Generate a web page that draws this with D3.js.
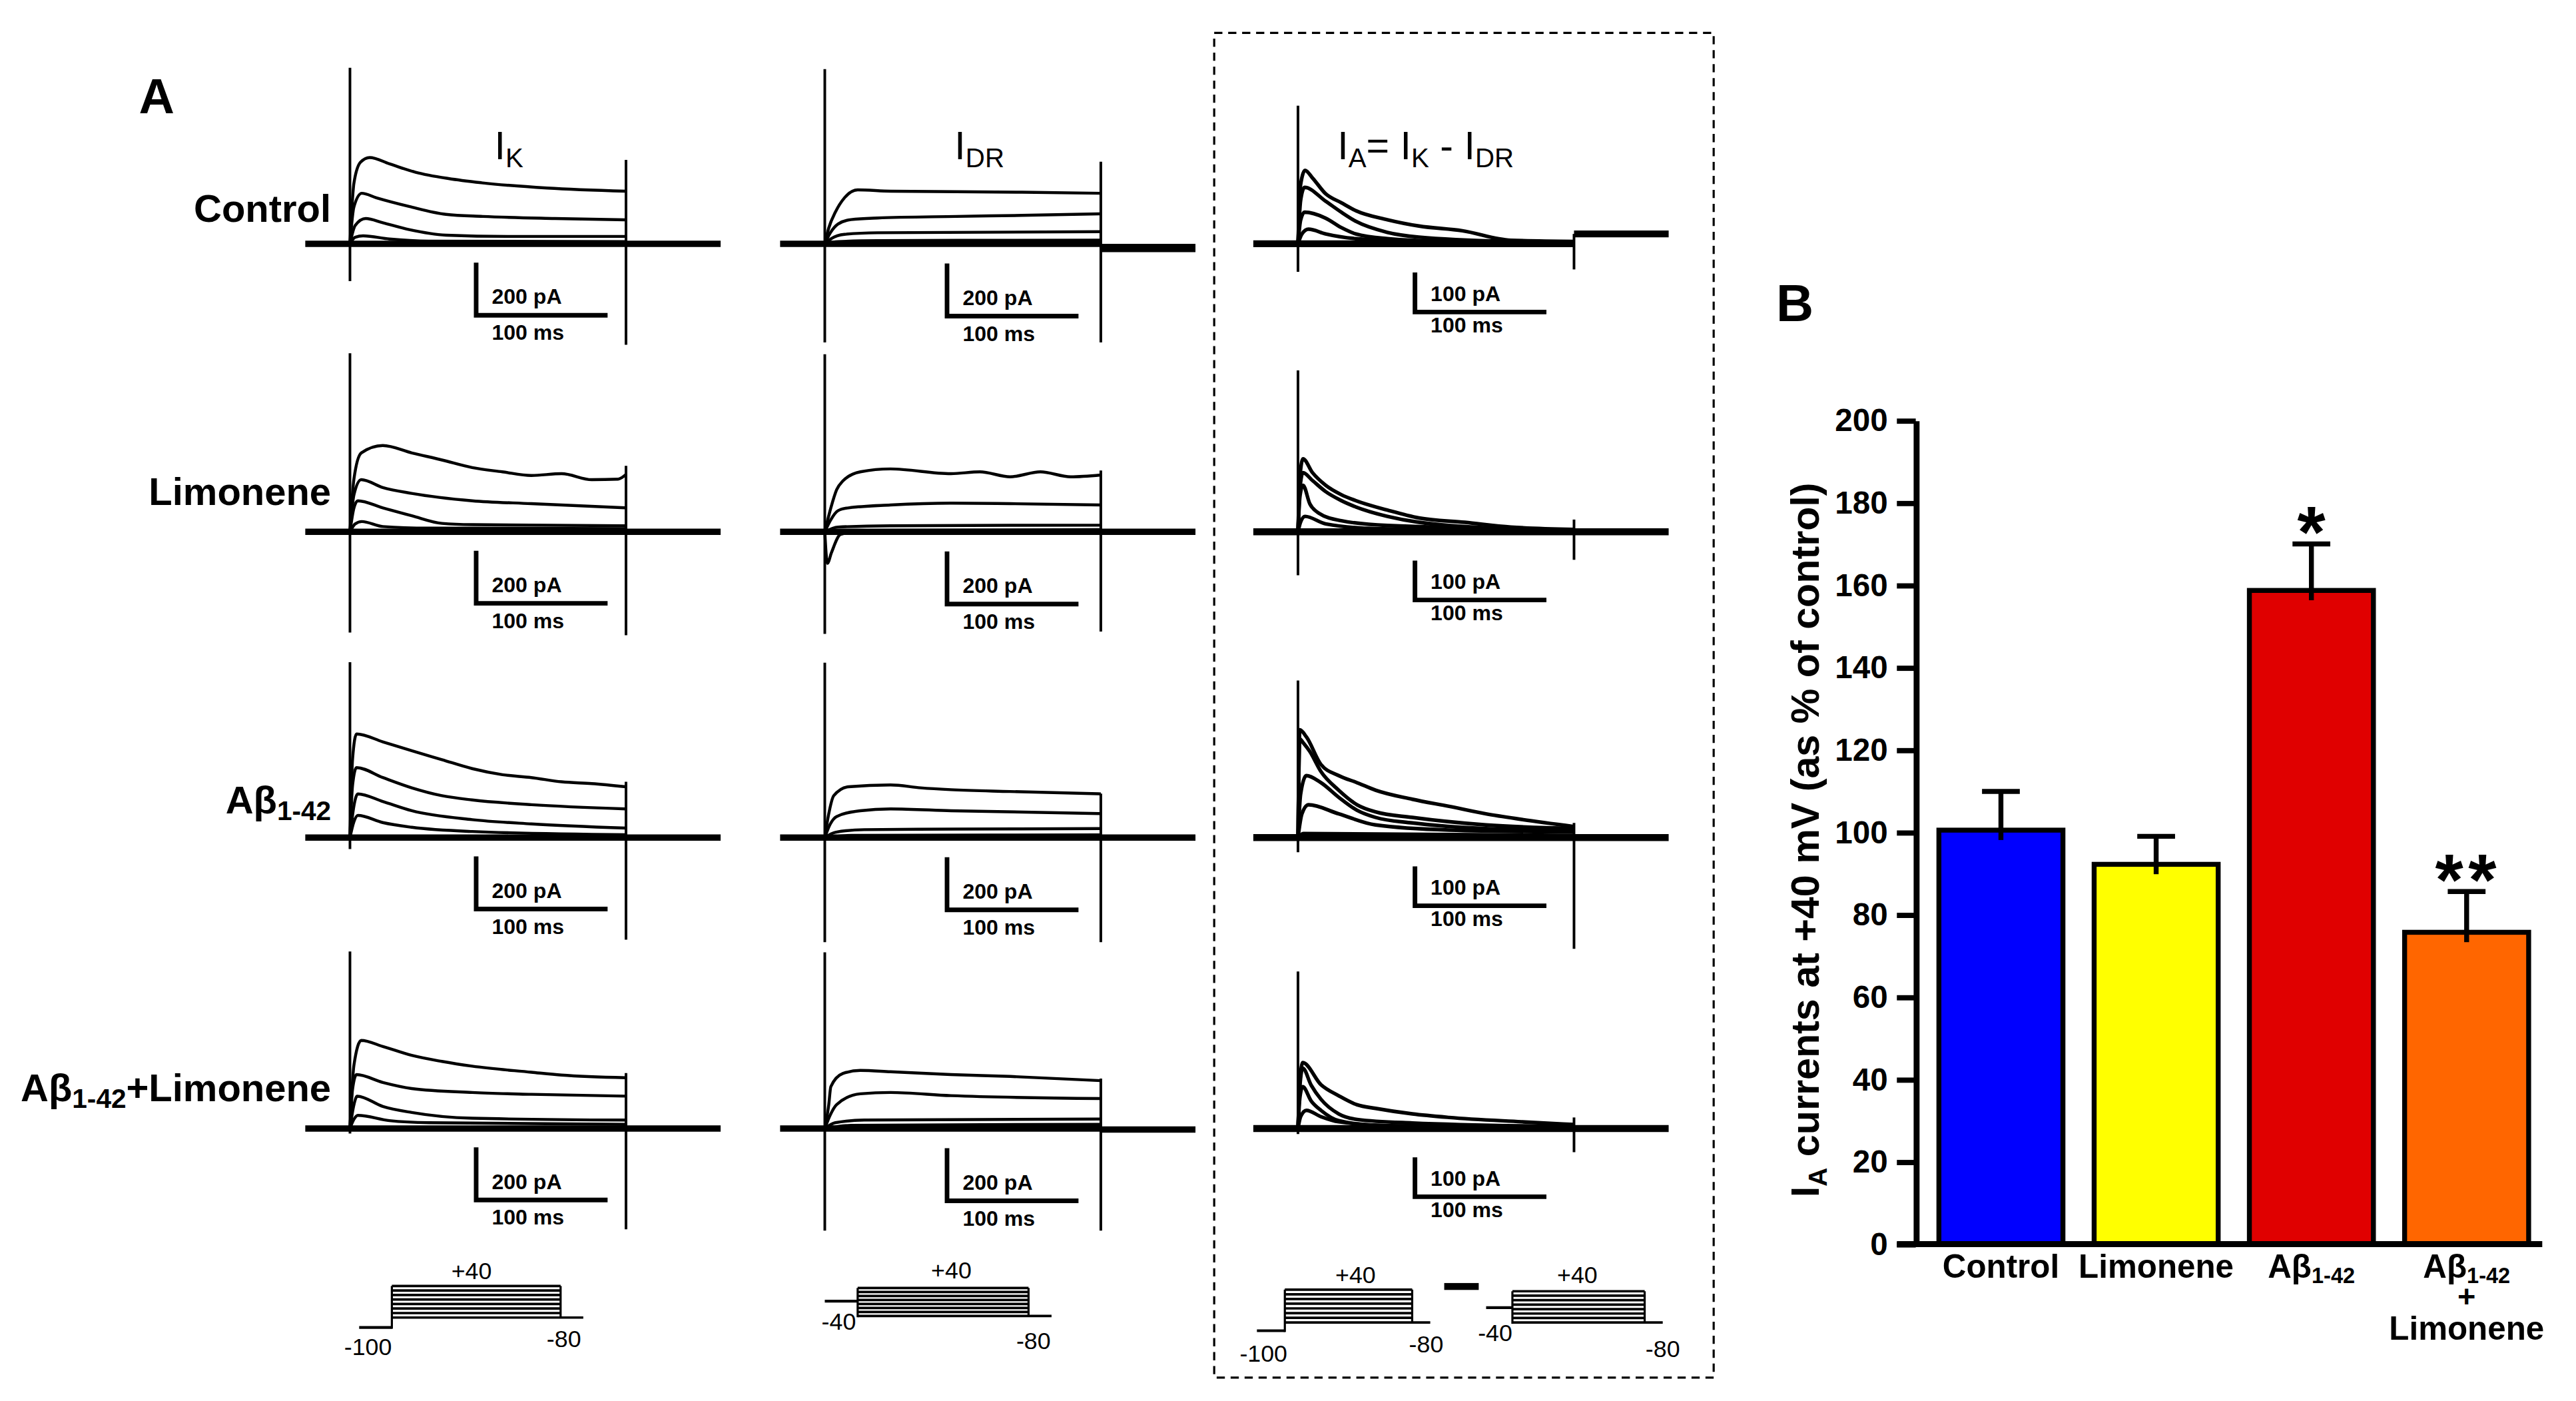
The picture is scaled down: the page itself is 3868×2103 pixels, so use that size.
<!DOCTYPE html>
<html>
<head>
<meta charset="utf-8">
<script src="https://cdn.jsdelivr.net/npm/d3@7"></script>
<style>
  body { margin: 0; background: #fff; overflow: hidden; }
  svg { display: block; }
  text { font-family: "Liberation Sans", Arial, sans-serif; fill: #000; }
</style>
</head>
<body>
<script>
// ---------------- data ----------------
// panel B: I_A at +40 mV as % of control
var barCategories = ["Control", "Limonene", "Abeta", "Abeta+Limonene"];
var barLabelLines = [["Control"], ["Limonene"], ["Aβ_{1-42}"], ["Aβ_{1-42}", "+", "Limonene"]];
var barMeans = [100.5, 92.2, 158.7, 75.7];
var barSem = [9.4, 6.8, 11.3, 9.9];
var barColors = ["#0000ff", "#ffff00", "#e00000", "#ff6600"];
var barStars = ["", "", "*", "**"];
var yTicks = [0, 20, 40, 60, 80, 100, 120, 140, 160, 180, 200];

// panel A: current traces, [time ms after step onset, current pA]
var rowNames = ["Control", "Limonene", "Aβ_{1-42}", "Aβ_{1-42}+Limonene"];
var colTitles = ["I_{K}", "I_{DR}", "I_{A}= I_{K} - I_{DR}"];
var scaleBarPa = [200, 200, 100];
var scaleBarMs = 100;
var pulseMs = 210, preMs = 34, postMs = 72;

var tracesIK = [
  [ [[0,0],[3,230],[8,310],[15,328],[30,304],[50,272],[75,248],[100,232],[150,212],[210,200]],
    [[0,0],[3,140],[9,192],[20,175],[45,142],[73,112],[101,104],[156,96],[210,91]],
    [[0,0],[4,70],[12,96],[25,80],[45,54],[73,33],[120,28],[210,28]],
    [[0,0],[4,25],[10,30],[30,18],[60,10],[210,8]] ],
  [ [[0,0],[3,200],[8.6,300],[25,328],[47,300],[70,273],[93,244],[116,228],[138,214],[161,221],[184,198],[204,200],[210,218]],
    [[0,0],[3,140],[8.6,198],[25,168],[47,146],[93,118],[138,107],[210,91]],
    [[0,0],[3,90],[6,118],[25,91],[47,61],[70,32],[93,27],[210,23]],
    [[0,0],[4,30],[9,39],[25,20],[60,14],[210,12]] ],
  [ [[0,0],[2,300],[5,394],[25,364],[47,330],[70,296],[93,262],[116,239],[138,228],[161,212],[184,205],[210,193]],
    [[0,0],[2,200],[5,266],[25,228],[47,189],[70,159],[93,143],[138,125],[210,109]],
    [[0,0],[3,120],[6,166],[25,137],[47,102],[93,68],[138,52],[210,36]],
    [[0,0],[3,60],[6,84],[25,57],[47,39],[93,23],[210,11]] ],
  [ [[0,0],[3,240],[8.6,335],[25,312],[47,278],[70,255],[93,237],[138,214],[161,203],[210,193]],
    [[0,0],[2,150],[5,205],[25,175],[47,152],[93,137],[138,130],[210,123]],
    [[0,0],[3,90],[5.5,123],[25,84],[47,61],[93,39],[210,32]],
    [[0,0],[3,35],[6,50],[30,30],[60,22],[210,16]] ]
];

var tracesIDR = [
  [ [[0,0],[3,60],[8,120],[15,175],[25,205],[50,200],[100,198],[150,196],[210,192]],
    [[0,0],[4,40],[10,75],[20,92],[40,98],[100,104],[150,108],[210,114]],
    [[0,0],[5,20],[15,36],[40,42],[210,46]],
    [[0,0],[10,8],[40,12],[210,14]] ],
  [ [[0,0],[4.6,91],[9,160],[13.7,193],[27,228],[50,239],[96,221],[118,228],[141,209],[164,228],[187,209],[210,216]],
    [[0,0],[4.6,46],[10,80],[18,91],[50,102],[96,109],[141,107],[210,102]],
    [[0,0],[10,18],[50,23],[210,25]],
    [[0,0],[2,-120],[5,-80],[12,-10],[30,5],[210,8]] ],
  [ [[0,0],[3,90],[6.8,159],[18,193],[50,200],[73,189],[96,182],[141,175],[210,166]],
    [[0,0],[4,50],[9,80],[27,102],[50,109],[96,102],[210,91]],
    [[0,0],[8,20],[30,30],[100,32],[210,34]],
    [[0,0],[20,8],[210,10]] ],
  [ [[0,0],[3,90],[4.6,159],[13.7,209],[27,221],[50,216],[96,205],[141,198],[210,182]],
    [[0,0],[4,50],[9,91],[27,132],[50,137],[96,125],[210,114]],
    [[0,0],[8,22],[30,32],[210,36]],
    [[0,0],[20,12],[210,16]] ]
];

var tracesIA = [
  [ [[0,0],[2,150],[5.4,186],[11,167],[21,127],[33,104],[44,84],[68,61],[92,45],[125,33],[162,9],[210,6]],
    [[0,0],[2,110],[5,143],[21,108],[33,80],[44,57],[68,29],[92,17],[162,6],[210,4]],
    [[0,0],[2,60],[5,80],[21,65],[33,41],[44,25],[68,13],[115,6],[210,3]],
    [[0,0],[3,25],[8,37],[21,25],[44,13],[92,6],[210,3]] ],
  [ [[0,0],[1.5,140],[3.8,185],[11,150],[21,118],[33,94],[44,79],[68,55],[92,35],[127,24],[162,12],[210,6]],
    [[0,0],[1.5,110],[3.8,150],[11,130],[21,102],[33,79],[44,63],[68,39],[92,24],[162,8],[210,5]],
    [[0,0],[1.5,90],[3.8,118],[9,71],[16,47],[33,28],[68,16],[210,5]],
    [[0,0],[2,25],[5.4,39],[21,20],[60,8],[210,3]] ],
  [ [[0,0],[1.4,273],[6.4,255],[17.5,185],[31,157],[45,139],[59,120],[87,97],[115,79],[143,60],[170,46],[210,28]],
    [[0,0],[1.4,250],[4,240],[9,218],[17.5,167],[31,120],[45,83],[59,65],[87,51],[143,32],[210,23]],
    [[0,0],[2,110],[6.4,157],[17.5,139],[31,102],[45,69],[59,51],[87,37],[143,23],[210,19]],
    [[0,0],[3,60],[8,83],[31,60],[59,32],[115,19],[210,14]],
    [[0,0],[4,10],[210,5]] ],
  [ [[0,0],[1.5,120],[3.6,167],[17.5,111],[31,83],[45,60],[59,51],[87,37],[115,28],[170,17],[210,10]],
    [[0,0],[1.5,110],[3.6,153],[10,110],[17.5,74],[31,37],[45,23],[87,14],[210,5]],
    [[0,0],[1.5,80],[3.6,106],[10,70],[17.5,46],[31,20],[60,8],[210,3]],
    [[0,0],[2,30],[6.4,46],[17.5,30],[31,17],[80,6],[210,3]] ]
];

// capacitive transients: [onset top, onset bottom, offset top, offset bottom] in pA
var spikesIK = [[669,-142,319,-384],[679,-383,251,-393],[667,-44,212,-388],[673,-19,211,-383]];
var spikesIDR = [[664,-375,312,-375],[675,-388,233,-379],[665,-398,167,-398],[670,-388,190,-388]];
var spikesIA = [[350,-71,25,-65],[409,-110,31,-71],[398,-37,37,-282],[398,-14,28,-60]];
// holding current after the step, pA
var tailIK = [0, 0, 0, 0];
var tailIDR = [-16, 0, 0, -4];
var tailIA = [25, 0, 0, 0];

// voltage protocol labels (mV)
var protocolLabels = [["+40", "-100", "-80"], ["+40", "-40", "-80"], ["+40", "-100", "-80"], ["+40", "-40", "-80"]];
var protocolSteps = 8;

// ---------------- layout ----------------
var W = 1560, H = 848;
var colOnsetX = [213, 502, 790];
var rowBaseY = [148.3, 323.5, 509.5, 686.5];
var rowLabelY = [135, 307, 495, 670];
var pxPerMs = 0.8;
var scaleBarPx = [32, 32, 24];
var scaleBarT = [96, 93, 89];
var scaleBarTop = [11.5, 12, 17.5];
var traceWidth = [1.8, 1.8, 2.2];

var protocolLayout = [
  {x0: 218.6, x1: 238.5, x2: 341.2, x3: 355, top: 782.3, bottom: 801.5, hold: 807.5, lab: [[287, 778.2], [224, 824.4], [343.2, 819.5]]},
  {x0: 502, x1: 522, x2: 626, x3: 640, top: 783.5, bottom: 800.5, hold: 791.5, lab: [[579, 777.5], [510.5, 808.8], [629, 820.5]]},
  {x0: 765, x1: 782, x2: 859.5, x3: 870.5, top: 784.5, bottom: 804.5, hold: 809.5, lab: [[825, 780.5], [769, 828.5], [868, 822.5]]},
  {x0: 904.5, x1: 920.5, x2: 1001, x3: 1012, top: 785.5, bottom: 804.5, hold: 795.5, lab: [[960, 780.5], [910, 815.8], [1012, 825.5]]}
];

var svg = d3.select("body").append("svg")
  .attr("width", 3868).attr("height", 2103)
  .attr("viewBox", "0 0 " + W + " " + H)
  .attr("preserveAspectRatio", "none");
var root = svg.append("g").attr("transform", "scale(0.995)");

// text with _{subscript} parts
function richText(sel, str, subScale, subDy) {
  var fs = parseFloat(sel.attr("font-size"));
  var parts = str.split(/(_\{[^}]*\})/).filter(function(s) { return s.length; });
  var lowered = false;
  parts.forEach(function(p) {
    if (p.indexOf("_{") === 0) {
      sel.append("tspan").attr("font-size", fs * subScale).attr("dy", subDy).text(p.slice(2, -1));
      lowered = true;
    } else {
      sel.append("tspan").attr("dy", lowered ? -subDy : 0).text(p);
      lowered = false;
    }
  });
  return sel;
}

// ---------------- panel A ----------------
var gA = root.append("g");

gA.append("text").attr("x", 84.5).attr("y", 69).attr("font-size", 30).attr("font-weight", "bold").text("A");

// dashed box round I_A
gA.append("rect").attr("x", 739).attr("y", 20).attr("width", 304).attr("height", 818)
  .attr("fill", "none").attr("stroke", "#000").attr("stroke-width", 1.3).attr("stroke-dasharray", "5,3.5");

var titleX = [301, 581, 814];
colTitles.forEach(function(t, c) {
  richText(gA.append("text").attr("x", titleX[c]).attr("y", 96.8).attr("font-size", 24), t, 0.68, 5);
});

rowNames.forEach(function(n, r) {
  richText(gA.append("text").attr("x", 201.5).attr("y", rowLabelY[r]).attr("font-size", 23.5)
    .attr("font-weight", "bold").attr("text-anchor", "end"), n, 0.7, 4);
});

var allTraces = [tracesIK, tracesIDR, tracesIA];
var allSpikes = [spikesIK, spikesIDR, spikesIA];
var allTails = [tailIK, tailIDR, tailIA];

function drawPanel(c, r) {
  var ox = colOnsetX[c], by = rowBaseY[r];
  var x = d3.scaleLinear().domain([0, scaleBarMs]).range([ox, ox + scaleBarMs * pxPerMs]);
  var y = d3.scaleLinear().domain([0, scaleBarPa[c]]).range([by, by - scaleBarPx[c]]);
  var line = d3.line().x(function(d) { return x(d[0]); }).y(function(d) { return y(d[1]); })
    .curve(d3.curveMonotoneX);
  var g = gA.append("g");
  var tail = allTails[c][r];
  var baseW = c === 2 ? 4.2 : 3.8;

  // holding baseline (overlapping sweeps)
  g.append("path").attr("d", line([[-preMs, 0], [pulseMs, 0]]))
    .attr("fill", "none").attr("stroke", "#000").attr("stroke-width", baseW);
  g.append("path").attr("d", line([[pulseMs, tail], [pulseMs + postMs, tail]]))
    .attr("fill", "none").attr("stroke", "#000").attr("stroke-width", (c === 1 && r === 0) ? 5 : baseW);

  // step sweeps
  g.selectAll("path.sweep").data(allTraces[c][r]).enter().append("path")
    .attr("class", "sweep")
    .attr("d", line)
    .attr("fill", "none").attr("stroke", "#000")
    .attr("stroke-width", traceWidth[c]).attr("stroke-linejoin", "round");

  // capacitive transients
  var s = allSpikes[c][r];
  g.append("line").attr("x1", x(0)).attr("x2", x(0)).attr("y1", y(s[0])).attr("y2", y(s[1]))
    .attr("stroke", "#000").attr("stroke-width", 1.6);
  g.append("line").attr("x1", x(pulseMs)).attr("x2", x(pulseMs)).attr("y1", y(s[2])).attr("y2", y(s[3]))
    .attr("stroke", "#000").attr("stroke-width", 1.6);

  // scale bar
  var bx = x(scaleBarT[c]), bTop = by + scaleBarTop[c], bBot = bTop + scaleBarPx[c];
  g.append("path")
    .attr("d", "M" + bx + "," + bTop + "V" + bBot + "H" + x(scaleBarT[c] + scaleBarMs))
    .attr("fill", "none").attr("stroke", "#000").attr("stroke-width", 2.8).attr("stroke-linejoin", "miter");
  g.append("text").attr("x", bx + 9.5).attr("y", bBot - 6.8).attr("font-size", 13)
    .attr("font-weight", "bold").text(scaleBarPa[c] + " pA");
  g.append("text").attr("x", bx + 9.5).attr("y", bBot + (c === 2 ? 12.5 : 15)).attr("font-size", 13)
    .attr("font-weight", "bold").text(scaleBarMs + " ms");
}

for (var c = 0; c < 3; c++) {
  for (var r = 0; r < 4; r++) drawPanel(c, r);
}

// voltage protocols
protocolLayout.forEach(function(p, i) {
  var g = gA.append("g").attr("stroke", "#000").attr("fill", "none");
  var vy = d3.scaleLinear().domain([0, protocolSteps - 1]).range([p.top, p.bottom]);
  d3.range(protocolSteps).forEach(function(k) {
    g.append("line").attr("x1", p.x1).attr("x2", k === protocolSteps - 1 ? p.x3 : p.x2)
      .attr("y1", vy(k)).attr("y2", vy(k)).attr("stroke-width", 1.5);
  });
  g.append("line").attr("x1", p.x0).attr("x2", p.x1).attr("y1", p.hold).attr("y2", p.hold).attr("stroke-width", 1.7);
  g.append("line").attr("x1", p.x1).attr("x2", p.x1).attr("y1", p.top).attr("y2", Math.max(p.hold, p.bottom) + 0.8).attr("stroke-width", 1.3);
  g.append("line").attr("x1", p.x2).attr("x2", p.x2).attr("y1", p.top).attr("y2", p.bottom).attr("stroke-width", 1.3);
  protocolLabels[i].forEach(function(t, k) {
    gA.append("text").attr("x", p.lab[k][0]).attr("y", p.lab[k][1]).attr("font-size", 14.5)
      .attr("text-anchor", "middle").text(t);
  });
});
// minus sign between the two I_A protocols
gA.append("rect").attr("x", 879).attr("y", 780.5).attr("width", 21).attr("height", 4.2).attr("fill", "#000");

// ---------------- panel B ----------------
var gB = root.append("g");
var axisX = 1166, tickLen = 11.5;
var yB = d3.scaleLinear().domain([0, 200]).range([756.8, 255.7]);
var xB = d3.scaleBand().domain(barCategories).range([axisX, 1553.1]).paddingInner(0.201).paddingOuter(0.149);

gB.append("text").attr("x", 1081).attr("y", 195.3).attr("font-size", 31.5).attr("font-weight", "bold").text("B");

var yAxis = gB.append("g").attr("transform", "translate(" + axisX + ",0)")
  .call(d3.axisLeft(yB).tickValues(yTicks).tickSize(tickLen).tickSizeOuter(0).tickPadding(5.5));
yAxis.select(".domain").attr("stroke", "#000").attr("stroke-width", 3.6);
yAxis.selectAll(".tick line").attr("stroke", "#000").attr("stroke-width", 3.2);
yAxis.selectAll(".tick text").attr("font-size", 19.3).attr("font-weight", "bold")
  .attr("font-family", "'Liberation Sans', Arial, sans-serif").attr("fill", "#000");

// bars
gB.selectAll("rect.bar").data(barCategories).enter().append("rect")
  .attr("class", "bar")
  .attr("x", function(d) { return xB(d); })
  .attr("width", xB.bandwidth())
  .attr("y", function(d, i) { return yB(barMeans[i]); })
  .attr("height", function(d, i) { return yB(0) - yB(barMeans[i]); })
  .attr("fill", function(d, i) { return barColors[i]; })
  .attr("stroke", "#000").attr("stroke-width", 3);

// x axis line
gB.append("line").attr("x1", axisX - tickLen).attr("x2", 1547.3)
  .attr("y1", yB(0)).attr("y2", yB(0)).attr("stroke", "#000").attr("stroke-width", 3.6);

// error bars (upper SEM)
var labelLineY = [777.2, 795, 815];
barCategories.forEach(function(d, i) {
  var cx = xB(d) + xB.bandwidth() / 2;
  gB.append("line").attr("x1", cx).attr("x2", cx)
    .attr("y1", yB(barMeans[i]) + 6).attr("y2", yB(barMeans[i] + barSem[i]))
    .attr("stroke", "#000").attr("stroke-width", 3);
  gB.append("line").attr("x1", cx - 11.5).attr("x2", cx + 11.5)
    .attr("y1", yB(barMeans[i] + barSem[i])).attr("y2", yB(barMeans[i] + barSem[i]))
    .attr("stroke", "#000").attr("stroke-width", 3);
  if (barStars[i]) {
    gB.append("text").attr("x", cx + (barStars[i].length > 1 ? 1 : 0))
      .attr("y", yB(barMeans[i] + barSem[i]) - 17 + 0.57 * 44)
      .attr("font-size", 44).attr("font-weight", "bold").attr("text-anchor", "middle")
      .attr("letter-spacing", barStars[i].length > 1 ? 3 : 0)
      .text(barStars[i]);
  }
  barLabelLines[i].forEach(function(t, k) {
    richText(gB.append("text").attr("x", cx).attr("y", labelLineY[k]).attr("font-size", t === "+" ? 19 : 20)
      .attr("font-weight", "bold").attr("text-anchor", "middle"), t, 0.66, 3.5);
  });
});

// y axis title
richText(gB.append("text")
  .attr("transform", "translate(1107,511) rotate(-90)")
  .attr("font-size", 24).attr("font-weight", "bold").attr("text-anchor", "middle"),
  "I_{A} currents at +40 mV (as % of control)", 0.66, 5);
</script>
</body>
</html>
